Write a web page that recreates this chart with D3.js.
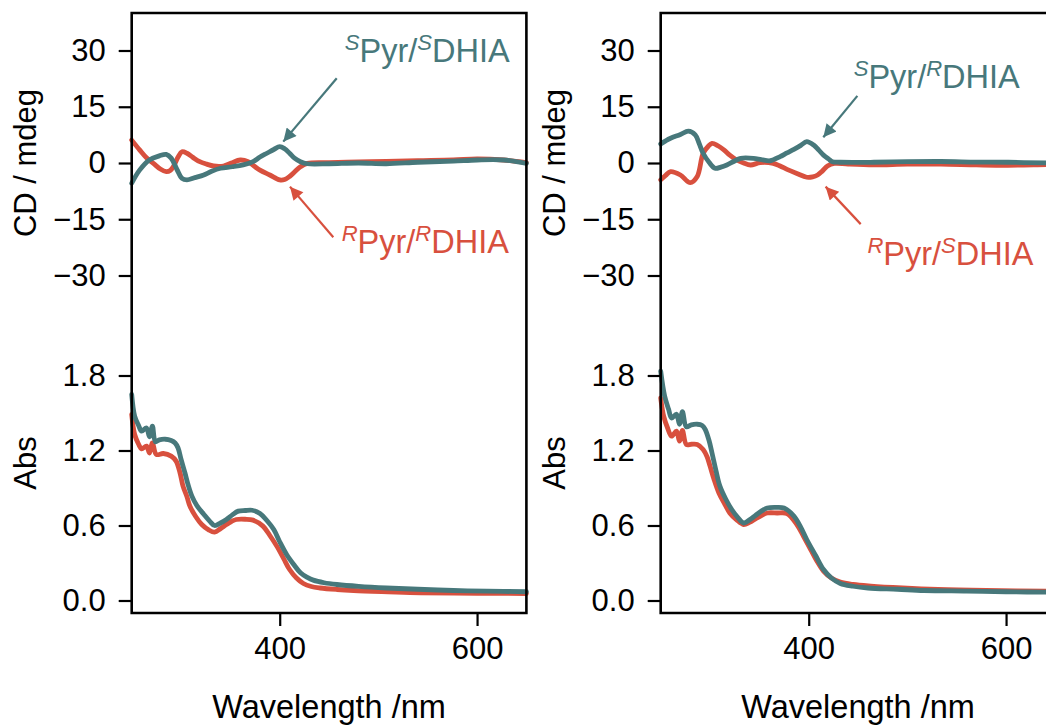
<!DOCTYPE html>
<html>
<head>
<meta charset="utf-8">
<script src="https://cdn.jsdelivr.net/npm/d3@7"></script>
<style>
  html, body { margin: 0; padding: 0; background: #fff; }
  svg { display: block; }
  text { font-family: Arial, "Liberation Sans", Helvetica, sans-serif; }
</style>
</head>
<body>
<svg id="fig" width="1046" height="726"></svg>
<script>
// ---- data: wavelength (nm) / value pairs ----
const wlDomain = [250, 650];
const wlTicks = [400, 600];
const cdTicks = [-30, -15, 0, 15, 30];
const absTicks = [0.0, 0.6, 1.2, 1.8];

// Panel (a): SPyr/SDHIA vs RPyr/RDHIA
const cdSS = [[250,-5.4],[258,-1.9],[268,0.8],[278,1.9],[285,2.3],[290,1.3],[296,-1.8],[301,-4.1],[306,-4.5],[314,-3.9],[323,-3.2],[331,-2.2],[340,-1.4],[352,-1.0],[363,-0.5],[373,0.35],[380,1.6],[387,2.6],[394,3.6],[400,4.35],[405,3.8],[410,2.6],[415,1.3],[421,0.35],[428,-0.2],[450,-0.2],[480,0.0],[508,-0.2],[540,0.2],[576,0.5],[600,0.8],[627,0.8],[650,-0.1]];
const cdRR = [[250,6.1],[258,3.5],[265,1.4],[272,-0.1],[279,-1.6],[285,-2.3],[289,-2.0],[293,-0.6],[297,1.6],[301,3.0],[306,2.6],[312,1.5],[319,0.35],[326,-0.3],[333,-0.8],[343,-0.8],[351,0.0],[360,0.8],[368,0.35],[374,-0.8],[380,-1.9],[390,-3.2],[400,-4.5],[405,-4.4],[410,-3.6],[415,-2.4],[421,-1.0],[428,-0.1],[450,0.1],[480,0.3],[508,0.4],[540,0.6],[576,0.8],[600,1.1],[627,0.8],[650,0.1]];
const absSS = [[250,1.648],[253,1.475],[257,1.40],[260,1.355],[265,1.38],[268,1.31],[271,1.395],[274,1.27],[278,1.285],[284,1.29],[290,1.28],[294,1.26],[297,1.22],[300,1.13],[304,1.02],[307,0.93],[311,0.835],[316,0.76],[323,0.69],[329,0.635],[334,0.60],[340,0.62],[346,0.648],[352,0.685],[358,0.715],[365,0.72],[372,0.722],[380,0.696],[387,0.64],[394,0.568],[400,0.47],[407,0.368],[414,0.29],[421,0.222],[428,0.185],[434,0.163],[445,0.142],[458,0.128],[480,0.113],[508,0.10],[540,0.09],[576,0.08],[610,0.075],[650,0.07]];
const absRR = [[250,1.488],[253,1.328],[257,1.25],[260,1.213],[265,1.235],[268,1.18],[271,1.26],[275,1.168],[282,1.176],[290,1.155],[295,1.115],[299,1.02],[302,0.915],[306,0.83],[309,0.755],[315,0.67],[321,0.608],[328,0.565],[334,0.547],[340,0.575],[346,0.608],[351,0.632],[356,0.648],[365,0.65],[373,0.643],[383,0.595],[390,0.52],[397,0.435],[404,0.335],[410,0.248],[417,0.18],[424,0.136],[432,0.112],[441,0.10],[458,0.088],[475,0.08],[510,0.07],[543,0.062],[600,0.058],[650,0.056]];

// Panel (b): SPyr/RDHIA vs RPyr/SDHIA
const cdSR = [[250,5.07],[255,5.9],[260,6.6],[270,7.6],[278,8.5],[285,7.5],[289,5.2],[293,2.6],[299,0.2],[305,-1.4],[311,-1.1],[317,-0.53],[324,0.4],[331,1.25],[344,1.25],[352,0.9],[361,0.6],[371,1.7],[378,2.7],[385,3.65],[392,4.7],[398,5.7],[405,4.8],[410,3.5],[415,2.1],[420,1.1],[424,0.35],[432,0.2],[466,0.2],[500,0.35],[534,0.4],[570,0.25],[602,0.2],[642,0.0],[650,0.0]];
const cdRS = [[250,-4.5],[255,-3.3],[260,-2.3],[270,-3.2],[280,-5.25],[287,-3.6],[293,2.6],[298,4.4],[302,5.25],[308,4.6],[314,3.5],[320,2.1],[327,0.8],[334,0.0],[341,-0.53],[351,0.1],[364,-0.1],[371,-0.8],[378,-1.7],[388,-2.8],[398,-3.8],[404,-3.7],[409,-3.2],[414,-2.1],[419,-0.8],[426,-0.1],[440,-0.3],[466,-0.5],[500,-0.3],[534,-0.3],[570,-0.5],[602,-0.6],[642,-0.4],[650,-0.4]];
const absSR = [[250,1.835],[254,1.635],[258,1.53],[261,1.46],[266,1.49],[269,1.41],[272,1.51],[276,1.39],[281,1.405],[287,1.41],[292,1.40],[295,1.37],[299,1.28],[302,1.18],[306,1.04],[310,0.915],[316,0.81],[322,0.728],[328,0.665],[334,0.62],[340,0.645],[346,0.68],[352,0.715],[358,0.74],[366,0.745],[375,0.74],[385,0.675],[392,0.585],[398,0.488],[407,0.36],[415,0.248],[423,0.18],[432,0.136],[445,0.114],[460,0.10],[490,0.09],[517,0.08],[560,0.075],[600,0.07],[650,0.066]];
const absRS = [[250,1.62],[253,1.475],[257,1.38],[261,1.315],[266,1.355],[269,1.275],[272,1.36],[276,1.248],[281,1.25],[287,1.248],[293,1.208],[297,1.15],[300,1.075],[304,0.97],[309,0.86],[315,0.77],[320,0.70],[327,0.645],[334,0.608],[340,0.625],[346,0.653],[352,0.68],[358,0.70],[368,0.70],[378,0.696],[388,0.608],[395,0.51],[402,0.408],[408,0.32],[415,0.235],[423,0.18],[432,0.147],[445,0.128],[463,0.115],[495,0.10],[531,0.088],[580,0.08],[650,0.075]];

const teal = "#47787b";
const red = "#d8503e";

// ---- layout ----
const svg = d3.select("#fig");
const panelW = 394.7;
const cdTop = 13, mid = 313, absBottom = 613;
const panels = [
  { left: 131.7, cd: [cdSS, cdRR], abs: [absSS, absRR],
    labels: [
      { parts: ["S", "Pyr/", "S", "DHIA"], color: teal, at: [466, 27],
        arrow: { from: [457.8, 22.6], to: [403.6, 5.7] } },
      { parts: ["R", "Pyr/", "R", "DHIA"], color: red, at: [462.8, -24],
        arrow: { from: [454.3, -19.8], to: [410.4, -6.3] } }
    ] },
  { left: 660.7, cd: [cdSR, cdRS], abs: [absSR, absRS],
    labels: [
      { parts: ["S", "Pyr/", "R", "DHIA"], color: teal, at: [445.6, 20],
        arrow: { from: [449.3, 17.9], to: [414.8, 6.85] } },
      { parts: ["R", "Pyr/", "S", "DHIA"], color: red, at: [459.5, -27.2],
        arrow: { from: [452.7, -16.3], to: [417.1, -6.3] } }
    ] }
];

const fmtCD = d => (d < 0 ? "\u2212" + Math.abs(d) : String(d));
const fmtAbs = d => d.toFixed(1);

svg.append("defs").selectAll("marker")
  .data([["headTeal", teal], ["headRed", red]])
  .join("marker")
  .attr("id", d => d[0])
  .attr("viewBox", "0 0 10 10")
  .attr("refX", 10).attr("refY", 5)
  .attr("markerUnits", "userSpaceOnUse")
  .attr("markerWidth", 18).attr("markerHeight", 13)
  .attr("orient", "auto")
  .append("path")
  .attr("d", "M0,0 L10,5 L0,10 Z")
  .attr("fill", d => d[1]);

panels.forEach(p => {
  const x = d3.scaleLinear().domain(wlDomain).range([p.left, p.left + panelW]);
  const yCD = d3.scaleLinear().domain([-40, 40]).range([mid, cdTop]);
  const yAbs = d3.scaleLinear().domain([-0.1, 2.3]).range([absBottom, mid]);

  const lineCD = d3.line().x(d => x(d[0])).y(d => yCD(d[1])).curve(d3.curveCatmullRom.alpha(0.5));
  const lineAbs = d3.line().x(d => x(d[0])).y(d => yAbs(d[1])).curve(d3.curveCatmullRom.alpha(0.5));

  const g = svg.append("g");

  // spectra: red drawn first, teal on top
  const colors = [teal, red];
  [1, 0].forEach(i => {
    g.append("path").attr("d", lineCD(p.cd[i]))
      .attr("fill", "none").attr("stroke", colors[i]).attr("stroke-width", 4.8)
      .attr("stroke-linejoin", "round").attr("stroke-linecap", "round");
  });
  [1, 0].forEach(i => {
    g.append("path").attr("d", lineAbs(p.abs[i]))
      .attr("fill", "none").attr("stroke", colors[i]).attr("stroke-width", 4.8)
      .attr("stroke-linejoin", "round").attr("stroke-linecap", "round");
  });

  // axes
  const axL = g.append("g").attr("transform", `translate(${p.left},0)`)
    .call(d3.axisLeft(yCD).tickValues(cdTicks).tickFormat(fmtCD).tickSize(13).tickPadding(13).tickSizeOuter(0));
  const axL2 = g.append("g").attr("transform", `translate(${p.left},0)`)
    .call(d3.axisLeft(yAbs).tickValues(absTicks).tickFormat(fmtAbs).tickSize(13).tickPadding(13).tickSizeOuter(0));
  const axB = g.append("g").attr("transform", `translate(0,${absBottom})`)
    .call(d3.axisBottom(x).tickValues(wlTicks).tickSize(13).tickPadding(11).tickSizeOuter(0));
  [axL, axL2, axB].forEach(a => {
    a.select(".domain").remove();
    a.selectAll(".tick line").attr("stroke", "#000").attr("stroke-width", 2.2);
    a.selectAll(".tick text").attr("fill", "#000").style("font-size", "31px")
      .style("font-family", "Arial, 'Liberation Sans', sans-serif");
  });

  // frame
  const fr = g.append("g").attr("fill", "none").attr("stroke", "#000").attr("stroke-width", 2.6);
  fr.append("path").attr("d", `M${p.left},${absBottom}V${cdTop}H${p.left + panelW}V${absBottom}Z`);

  // axis titles
  g.append("text").attr("transform", `translate(${p.left - 96},${(cdTop + mid) / 2}) rotate(-90)`)
    .attr("text-anchor", "middle").style("font-size", "31px").text("CD / mdeg");
  g.append("text").attr("transform", `translate(${p.left - 96},${(mid + absBottom) / 2}) rotate(-90)`)
    .attr("text-anchor", "middle").style("font-size", "31px").text("Abs");
  g.append("text").attr("x", p.left + panelW / 2).attr("y", 718)
    .attr("text-anchor", "middle").style("font-size", "32.5px").text("Wavelength /nm");

  // annotations
  p.labels.forEach(l => {
    g.append("line")
      .attr("x1", x(l.arrow.from[0])).attr("y1", yCD(l.arrow.from[1]))
      .attr("x2", x(l.arrow.to[0])).attr("y2", yCD(l.arrow.to[1]))
      .attr("stroke", l.color).attr("stroke-width", 2.2)
      .attr("marker-end", `url(#${l.color === teal ? "headTeal" : "headRed"})`);
    const t = g.append("text").attr("x", x(l.at[0])).attr("y", yCD(l.at[1]))
      .attr("fill", l.color).style("font-size", "32.5px");
    t.append("tspan").attr("dy", -12).style("font-size", "22px").style("font-style", "italic").text(l.parts[0]);
    t.append("tspan").attr("dy", 12).text(l.parts[1]);
    t.append("tspan").attr("dy", -12).style("font-size", "22px").style("font-style", "italic").text(l.parts[2]);
    t.append("tspan").attr("dy", 12).text(l.parts[3]);
  });
});
</script>
</body>
</html>
